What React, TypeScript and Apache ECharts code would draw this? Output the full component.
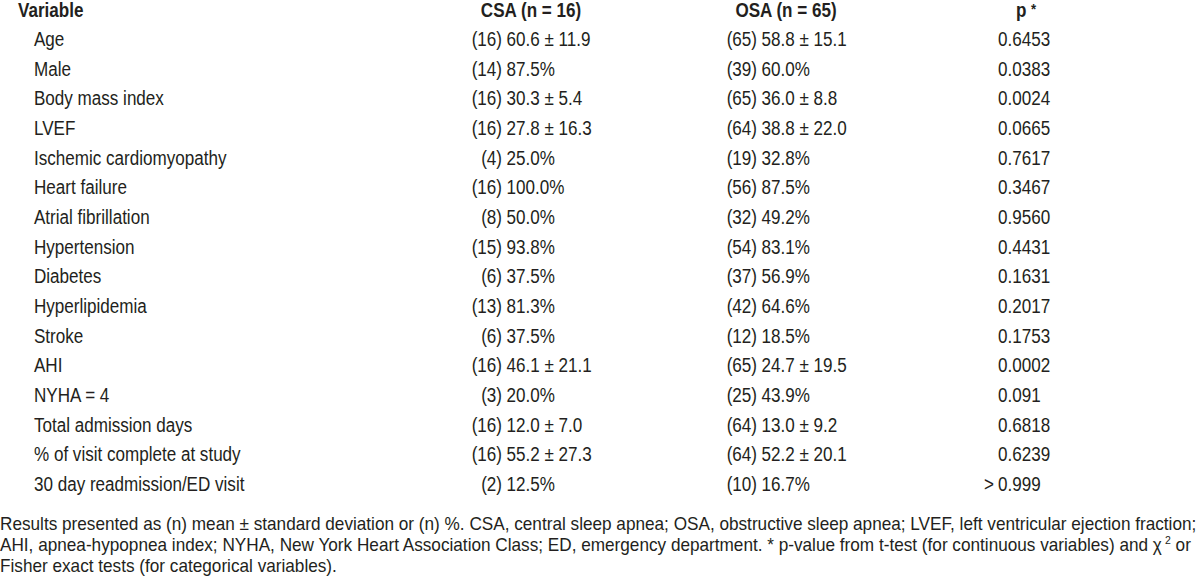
import React, { useEffect, useRef } from "react";
import * as echarts from "echarts";

const headers = ["Variable", "CSA (n = 16)", "OSA (n = 65)", "p"];
const variables = [
  "Age", "Male", "Body mass index", "LVEF", "Ischemic cardiomyopathy", "Heart failure",
  "Atrial fibrillation", "Hypertension", "Diabetes", "Hyperlipidemia", "Stroke", "AHI",
  "NYHA = 4", "Total admission days", "% of visit complete at study", "30 day readmission/ED visit",
];
const csaN = [16, 14, 16, 16, 4, 16, 8, 15, 6, 13, 6, 16, 3, 16, 16, 2];
const csaValue = [
  "60.6 ± 11.9", "87.5%", "30.3 ± 5.4", "27.8 ± 16.3", "25.0%", "100.0%", "50.0%", "93.8%",
  "37.5%", "81.3%", "37.5%", "46.1 ± 21.1", "20.0%", "12.0 ± 7.0", "55.2 ± 27.3", "12.5%",
];
const osaN = [65, 39, 65, 64, 19, 56, 32, 54, 37, 42, 12, 65, 25, 64, 64, 10];
const osaValue = [
  "58.8 ± 15.1", "60.0%", "36.0 ± 8.8", "38.8 ± 22.0", "32.8%", "87.5%", "49.2%", "83.1%",
  "56.9%", "64.6%", "18.5%", "24.7 ± 19.5", "43.9%", "13.0 ± 9.2", "52.2 ± 20.1", "16.7%",
];
const pValues = [
  "0.6453", "0.0383", "0.0024", "0.0665", "0.7617", "0.3467", "0.9560", "0.4431",
  "0.1631", "0.2017", "0.1753", "0.0002", "0.091", "0.6818", "0.6239", "> 0.999",
];
const footLine1 =
  "Results presented as (n) mean ± standard deviation or (n) %. CSA, central sleep apnea; OSA, obstructive sleep apnea; LVEF, left ventricular ejection fraction;";
const footLine2a =
  "AHI, apnea-hypopnea index; NYHA, New York Heart Association Class; ED, emergency department. * p-value from t-test (for continuous variables) and χ";
const footLine2b = " or";
const footLine3 = "Fisher exact tests (for categorical variables).";

const FAMILY = "'Liberation Sans', Arial, Helvetica, sans-serif";
const COLOR = "#231f20";
const FS = 19.5;
const SX = 0.875;
const FOOT_FS = 18;
const FOOT_SX = 0.955;

function measure(text: string, font: string): number {
  const c = document.createElement("canvas").getContext("2d")!;
  c.font = font;
  return c.measureText(text).width;
}

function txt(text: string, x: number, y: number, opts: any = {}) {
  return {
    type: "text",
    x,
    y,
    scaleX: opts.sx ?? SX,
    scaleY: 1,
    silent: true,
    style: {
      text,
      fill: COLOR,
      font: `${opts.weight || "normal"} ${opts.size || FS}px ${FAMILY}`,
      textAlign: opts.align || "left",
      textVerticalAlign: "middle",
    },
  };
}

export default function App() {
  const ref = useRef<HTMLDivElement>(null);
  useEffect(() => {
    if (!ref.current) return;
    const chart = echarts.init(ref.current, null, { renderer: "svg" });
    const els: any[] = [];
    const headerY = 10;
    const rowY0 = 39;
    const step = 29.67;
    const colVar = 34;
    const csaNRight = 502;
    const osaNRight = 757;
    const pLeft = 998;

    els.push(txt(headers[0], 18, headerY, { weight: "bold" }));
    els.push(txt(headers[1], 531, headerY, { weight: "bold", align: "center" }));
    els.push(txt(headers[2], 786, headerY, { weight: "bold", align: "center" }));
    els.push(txt(headers[3], 1016, headerY, { weight: "bold" }));
    els.push(txt("*", 1031, headerY - 1, { weight: "bold", size: 15 }));

    variables.forEach((v, i) => {
      const y = rowY0 + i * step;
      els.push(txt(v, colVar, y));
      els.push(txt(`(${csaN[i]})`, csaNRight, y, { align: "right" }));
      els.push(txt(csaValue[i], csaNRight + 4.5, y));
      els.push(txt(`(${osaN[i]})`, osaNRight, y, { align: "right" }));
      els.push(txt(osaValue[i], osaNRight + 4.5, y));
      const p = pValues[i];
      if (p.startsWith(">")) {
        els.push(txt(">", pLeft - 4, y, { align: "right" }));
        els.push(txt(p.replace(/^>\s*/, ""), pLeft, y));
      } else {
        els.push(txt(p, pLeft, y));
      }
    });

    const fy1 = 524;
    const fstep = 21;
    const fo = { size: FOOT_FS, sx: FOOT_SX };
    els.push(txt(footLine1, 0, fy1, fo));
    els.push(txt(footLine2a, 0, fy1 + fstep, fo));
    const w2 = measure(footLine2a, `normal ${FOOT_FS}px ${FAMILY}`) * FOOT_SX;
    els.push(txt("2", w2 + 0.5, fy1 + fstep - 5, { size: 11, sx: FOOT_SX }));
    const w2s = measure("2", `normal 11px ${FAMILY}`) * FOOT_SX;
    els.push(txt(footLine2b, w2 + w2s + 0.5, fy1 + fstep, fo));
    els.push(txt(footLine3, 0, fy1 + 2 * fstep, fo));

    chart.setOption({
      animation: false,
      backgroundColor: "#ffffff",
      graphic: { elements: els },
    });
    return () => chart.dispose();
  }, []);
  return (
    <div
      ref={ref}
      style={{ position: "fixed", left: 0, top: 0, width: 1200, height: 583, background: "#fff" }}
    />
  );
}
